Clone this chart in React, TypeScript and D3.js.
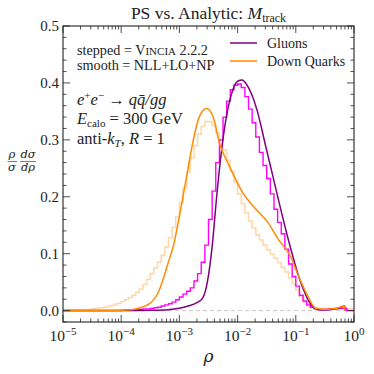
import React from 'react';
import * as d3 from 'd3';

// log10(rho) grid of the parton-shower histograms: 16 bins per decade from 1e-5 to 1
const histStart = -5;
const binsPerDecade = 16;

// stepped = Vincia, gluons
const gluonPS = [
  0, 0, 0, 0, 0, 0, 0, 0, 0, 0,
  0, 0, 0, 0, 0, 0, 0.0005, 0.001, 0.001, 0.0015,
  0.002, 0.002, 0.003, 0.003, 0.004, 0.005, 0.006, 0.008, 0.01, 0.012,
  0.015, 0.019, 0.024, 0.029, 0.034, 0.04, 0.052, 0.065, 0.085, 0.115,
  0.16, 0.21, 0.26, 0.3, 0.34, 0.368, 0.388, 0.396, 0.398, 0.392,
  0.376, 0.354, 0.33, 0.305, 0.278, 0.255, 0.232, 0.205, 0.178, 0.155,
  0.135, 0.108, 0.082, 0.06, 0.043, 0.027, 0.017, 0.01, 0.006, 0.003,
  0.002, 0.002, 0.002, 0.003, 0.003, 0.003, 0.004, 0.004, 0, 0,
];

// stepped = Vincia, down quarks
const quarkPS = [
  0.001, 0.001, 0.001, 0.001, 0.001, 0.001, 0.001, 0.002, 0.003, 0.004,
  0.005, 0.006, 0.007, 0.009, 0.011, 0.013, 0.016, 0.019, 0.023, 0.027,
  0.032, 0.038, 0.046, 0.055, 0.065, 0.075, 0.085, 0.097, 0.112, 0.128,
  0.146, 0.165, 0.19, 0.215, 0.243, 0.268, 0.29, 0.31, 0.324, 0.332,
  0.332, 0.325, 0.312, 0.298, 0.282, 0.264, 0.245, 0.225, 0.205, 0.188,
  0.172, 0.158, 0.145, 0.133, 0.124, 0.115, 0.107, 0.099, 0.092, 0.084,
  0.076, 0.068, 0.058, 0.047, 0.036, 0.025, 0.015, 0.008, 0.005, 0.004,
  0.004, 0.004, 0.004, 0.004, 0.004, 0.004, 0.004, 0.004, 0.003, 0.003,
];

// smooth = NLL+LO+NP, gluons
const gluonLogRho = [
  -5, -4, -3.5, -3.2, -3, -2.85, -2.7, -2.6, -2.52, -2.43, -2.36, -2.24, -2.12, -2,
  -1.92, -1.85, -1.75, -1.66, -1.52, -1.38, -1.24, -1.09, -0.95, -0.86, -0.75,
  -0.65, -0.55, -0.4, -0.25, -0.16, -0.15,
];
const gluonNLL = [
  0, 0, 0.0005, 0.0015, 0.004, 0.008, 0.014, 0.022, 0.05, 0.12, 0.2, 0.31, 0.375, 0.403,
  0.405, 0.398, 0.378, 0.35, 0.29, 0.23, 0.17, 0.11, 0.06, 0.035, 0.012,
  0.003, 0.001, 0.002, 0.005, 0.008, 0,
];

// smooth = NLL+LO+NP, down quarks
const quarkLogRho = [
  -5, -4.5, -4, -3.8, -3.67, -3.55, -3.45, -3.35, -3.28, -3.19, -3.1, -3.02, -2.93,
  -2.86, -2.78, -2.66, -2.53, -2.42, -2.3, -2.17, -2.03, -1.9, -1.7, -1.48, -1.3,
  -1.09, -0.95, -0.79, -0.66, -0.5, -0.3, -0.17, -0.15,
];
const quarkNLL = [
  0, 0, 0.0005, 0.002, 0.005, 0.01, 0.018, 0.035, 0.055, 0.085, 0.115, 0.155, 0.205,
  0.245, 0.29, 0.34, 0.355, 0.34, 0.29, 0.26, 0.23, 0.205, 0.18, 0.155, 0.125,
  0.095, 0.06, 0.025, 0.004, 0.002, 0.004, 0.008, 0,
];

const yMajor = [0, 0.1, 0.2, 0.3, 0.4, 0.5];
const yTickLabels = ['0.0', '0.1', '0.2', '0.3', '0.4', '0.5'];
const xDecades = [-5, -4, -3, -2, -1, 0];

const W = 374;
const H = 374;
const left = 63;
const right = 354;
const top = 26;
const bottom = 322;

const purple = '#800080';
const magenta = '#ff00ff';
const orange = '#ff8c00';
const lightOrange = '#ffd9ae';
const ink = '#222';
const font = '"Liberation Serif", "DejaVu Serif", serif';
const greek = '"DejaVu Serif", serif';

export default function App() {
  const x = d3.scaleLog().domain([1e-5, 1]).range([left, right]);
  const y = d3.scaleLinear().domain([-0.02, 0.5]).range([bottom, top]);

  const smooth = d3
    .line<[number, number]>()
    .x(d => x(Math.pow(10, d[0])))
    .y(d => y(d[1]))
    .curve(d3.curveMonotoneX);

  const step = d3
    .line<[number, number]>()
    .x(d => x(Math.pow(10, d[0])))
    .y(d => y(d[1]))
    .curve(d3.curveStepAfter);

  const histPoints = (vals: number[]): [number, number][] => {
    const pts: [number, number][] = vals.map((v, i) => [histStart + i / binsPerDecade, v]);
    pts.push([histStart + vals.length / binsPerDecade, vals[vals.length - 1]]);
    return pts;
  };

  const zip = (a: number[], b: number[]) => a.map((v, i) => [v, b[i]] as [number, number]);

  const yMinor = d3.range(-0.02, 0.501, 0.02).filter(v => !yMajor.some(m => Math.abs(m - v) < 1e-6));
  const xMinor = xDecades.slice(0, -1).flatMap(k => d3.range(2, 10).map(m => m * Math.pow(10, k)));

  const tickStroke = { stroke: ink, strokeWidth: 0.8 };

  return (
    <svg width={W} height={H} style={{ position: 'absolute', left: 0, top: 0, background: '#fff' }}
      fontFamily={font}>
      <rect x={0} y={0} width={W} height={H} fill="#fff" />
      {/* zero reference */}
      <line x1={left} x2={right} y1={y(0)} y2={y(0)} stroke="#c8c8c8" strokeWidth={1} strokeDasharray="4,3" />

      <path d={step(histPoints(quarkPS)) || ''} fill="none" stroke={lightOrange} strokeWidth={1.6} />
      <path d={step(histPoints(gluonPS)) || ''} fill="none" stroke={magenta} strokeWidth={1.4} />
      <path d={smooth(zip(gluonLogRho, gluonNLL)) || ''} fill="none" stroke={purple} strokeWidth={1.5} />
      <path d={smooth(zip(quarkLogRho, quarkNLL)) || ''} fill="none" stroke={orange} strokeWidth={1.5} />

      {/* frame */}
      <rect x={left} y={top} width={right - left} height={bottom - top} fill="none" stroke={ink} strokeWidth={1.1} />

      {/* y ticks */}
      {yMajor.map(v => (
        <g key={'ym' + v}>
          <line x1={left} x2={left + 7} y1={y(v)} y2={y(v)} {...tickStroke} />
          <line x1={right} x2={right - 7} y1={y(v)} y2={y(v)} {...tickStroke} />
        </g>
      ))}
      {yMinor.map(v => (
        <g key={'yn' + v}>
          <line x1={left} x2={left + 3.5} y1={y(v)} y2={y(v)} {...tickStroke} />
          <line x1={right} x2={right - 3.5} y1={y(v)} y2={y(v)} {...tickStroke} />
        </g>
      ))}
      {yMajor.map((v, i) => (
        <text key={'yl' + v} x={left - 4} y={y(v) + 5} textAnchor="end" fontSize={15} fill={ink}>
          {yTickLabels[i]}
        </text>
      ))}

      {/* x ticks */}
      {xDecades.map(k => (
        <g key={'xm' + k}>
          <line x1={x(Math.pow(10, k))} x2={x(Math.pow(10, k))} y1={bottom} y2={bottom - 7} {...tickStroke} />
          <line x1={x(Math.pow(10, k))} x2={x(Math.pow(10, k))} y1={top} y2={top + 7} {...tickStroke} />
        </g>
      ))}
      {xMinor.map(v => (
        <g key={'xn' + v}>
          <line x1={x(v)} x2={x(v)} y1={bottom} y2={bottom - 3.5} {...tickStroke} />
          <line x1={x(v)} x2={x(v)} y1={top} y2={top + 3.5} {...tickStroke} />
        </g>
      ))}
      {xDecades.map(k => (
        <text key={'xl' + k} x={x(Math.pow(10, k))} y={bottom + 19} textAnchor="middle" fontSize={15.5} fill={ink}>
          10<tspan dy={-6.5} fontSize={11}>{k === 0 ? '0' : '\u2212' + Math.abs(k)}</tspan>
        </text>
      ))}

      {/* axis labels */}
      <text x={(left + right) / 2} y={362} textAnchor="middle" fontSize={17} fontStyle="italic"
        fontFamily={greek} fill={ink}>ρ</text>
      <g fontSize={11.5} fontStyle="italic" fill={ink} textAnchor="middle" fontFamily={greek}>
        <text x={12} y={158}>ρ</text>
        <text x={12} y={171}>σ</text>
        <line x1={7.5} x2={17} y1={161.5} y2={161.5} stroke={ink} strokeWidth={0.6} />
        <text x={28} y={158}>dσ</text>
        <text x={28} y={171}>dρ</text>
        <line x1={20} x2={36} y1={161.5} y2={161.5} stroke={ink} strokeWidth={0.6} />
      </g>

      {/* title */}
      <text x={(left + right) / 2} y={19} textAnchor="middle" fontSize={17.5} fill={ink}>
        PS vs. Analytic: <tspan fontStyle="italic">M</tspan>
        <tspan dy={3} fontSize={12}>track</tspan>
      </text>

      {/* annotations */}
      <g fontSize={14.2} fill={ink}>
        <text x={77} y={55}>
          stepped = V<tspan fontSize={11}>INCIA</tspan> 2.2.2
        </text>
        <text x={77} y={70}>smooth = NLL+LO+NP</text>
      </g>
      <g fontSize={16.5} fill={ink}>
        <text x={77} y={105}>
          <tspan fontStyle="italic">e</tspan>
          <tspan dy={-6} fontSize={11}>+</tspan>
          <tspan dy={6} fontStyle="italic">e</tspan>
          <tspan dy={-6} fontSize={11}>{'\u2212'}</tspan>
          <tspan dy={6}> → </tspan>
          <tspan fontStyle="italic">q{'q\u0304'}/gg</tspan>
        </text>
        <text x={77} y={124}>
          <tspan fontStyle="italic">E</tspan>
          <tspan dy={2.5} fontSize={11}>calo</tspan>
          <tspan dy={-2.5}> = 300 GeV</tspan>
        </text>
        <text x={77} y={144}>
          anti-<tspan fontStyle="italic">k</tspan>
          <tspan dy={2.5} fontSize={11} fontStyle="italic">T</tspan>
          <tspan dy={-2.5}>, </tspan>
          <tspan fontStyle="italic">R</tspan> = 1
        </text>
      </g>

      {/* legend */}
      <line x1={230} x2={257} y1={43} y2={43} stroke={purple} strokeWidth={1.5} />
      <line x1={230} x2={257} y1={61} y2={61} stroke={orange} strokeWidth={1.5} />
      <g fontSize={14} fill={ink}>
        <text x={267} y={47.5}>Gluons</text>
        <text x={267} y={65.5}>Down Quarks</text>
      </g>
    </svg>
  );
}
